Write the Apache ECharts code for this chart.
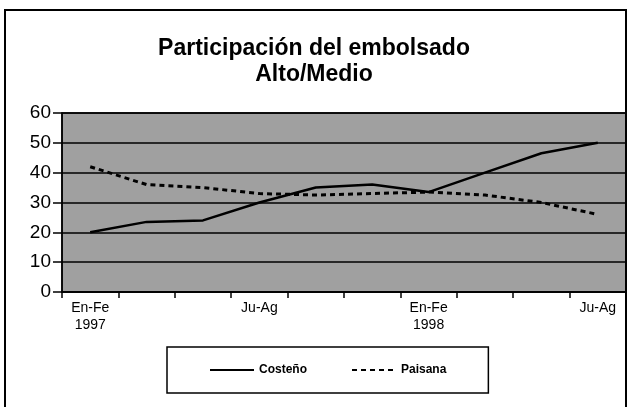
<!DOCTYPE html>
<html>
<head>
<meta charset="utf-8">
<script src="https://cdn.jsdelivr.net/npm/echarts@6/dist/echarts.min.js"></script>
<style>
  html, body { margin: 0; padding: 0; background: #fff; }
  #chart { width: 629px; height: 407px; }
</style>
</head>
<body>
<div id="chart"></div>
<script>
// bimonthly periods, only every third one carries a label
const periods = ["En-Fe\n1997", "", "", "Ju-Ag", "", "", "En-Fe\n1998", "", "", "Ju-Ag"];
const costeno = [20, 23.5, 24, 30, 35, 36, 33.5, 40, 46.5, 50];
const paisana = [42, 36, 35, 33, 32.5, 33, 33.5, 32.5, 30, 26];
const yTicks = [0, 10, 20, 30, 40, 50, 60];

const chart = echarts.init(document.getElementById("chart"), null, { renderer: "canvas" });

const font = "'Liberation Sans', Arial, sans-serif";

const option = {
  backgroundColor: "#fff",
  animation: false,
  title: {
    text: "Participación del embolsado\nAlto/Medio",
    left: 309,
    textAlign: "center",
    top: 31,
    textStyle: {
      fontFamily: font,
      fontSize: 23,
      fontWeight: "bold",
      color: "#000",
      lineHeight: 26
    }
  },
  graphic: [
    {
      type: "rect",
      shape: { x: 5, y: 10, width: 621, height: 400 },
      style: { fill: null, stroke: "#000", lineWidth: 2 },
      silent: true
    }
  ],
  legend: {
    left: 167,
    top: 347,
    padding: [17, 42, 17, 42],
    borderColor: "#000",
    borderWidth: 1.5,
    itemWidth: 44,
    itemHeight: 12,
    itemGap: 44,
    itemStyle: { opacity: 0 },
    textStyle: { fontFamily: font, fontSize: 12, fontWeight: "bold", color: "#000" },
    data: ["Costeño", "Paisana"]
  },
  grid: {
    left: 62,
    right: 3,
    top: 113,
    bottom: 115,
    show: true,
    backgroundColor: "#a0a0a0",
    borderColor: "#000",
    borderWidth: 1.5
  },
  xAxis: {
    type: "category",
    data: periods,
    boundaryGap: true,
    axisLine: { lineStyle: { color: "#000", width: 1.5 } },
    axisTick: { show: true, length: 6, interval: 0, lineStyle: { color: "#000", width: 1.5 } },
    axisLabel: {
      interval: 0,
      margin: 8,
      fontFamily: font,
      fontSize: 14,
      lineHeight: 17,
      color: "#000"
    }
  },
  yAxis: {
    type: "value",
    min: yTicks[0],
    max: yTicks[yTicks.length - 1],
    interval: 10,
    axisLine: { show: true, lineStyle: { color: "#000", width: 1.5 } },
    axisTick: { show: true, length: 9, lineStyle: { color: "#000", width: 1.5 } },
    axisLabel: { fontFamily: font, fontSize: 19, color: "#000", margin: 11 },
    splitLine: { show: true, lineStyle: { color: "#000", width: 1.5 } }
  },
  series: [
    {
      name: "Costeño",
      type: "line",
      data: costeno,
      symbol: "none",
      lineStyle: { color: "#000", width: 2.5, type: "solid" },
      itemStyle: { color: "#000" }
    },
    {
      name: "Paisana",
      type: "line",
      data: paisana,
      symbol: "none",
      lineStyle: { color: "#000", width: 3, type: [5, 4] },
      itemStyle: { color: "#000" }
    }
  ]
};

chart.setOption(option);
</script>
</body>
</html>
